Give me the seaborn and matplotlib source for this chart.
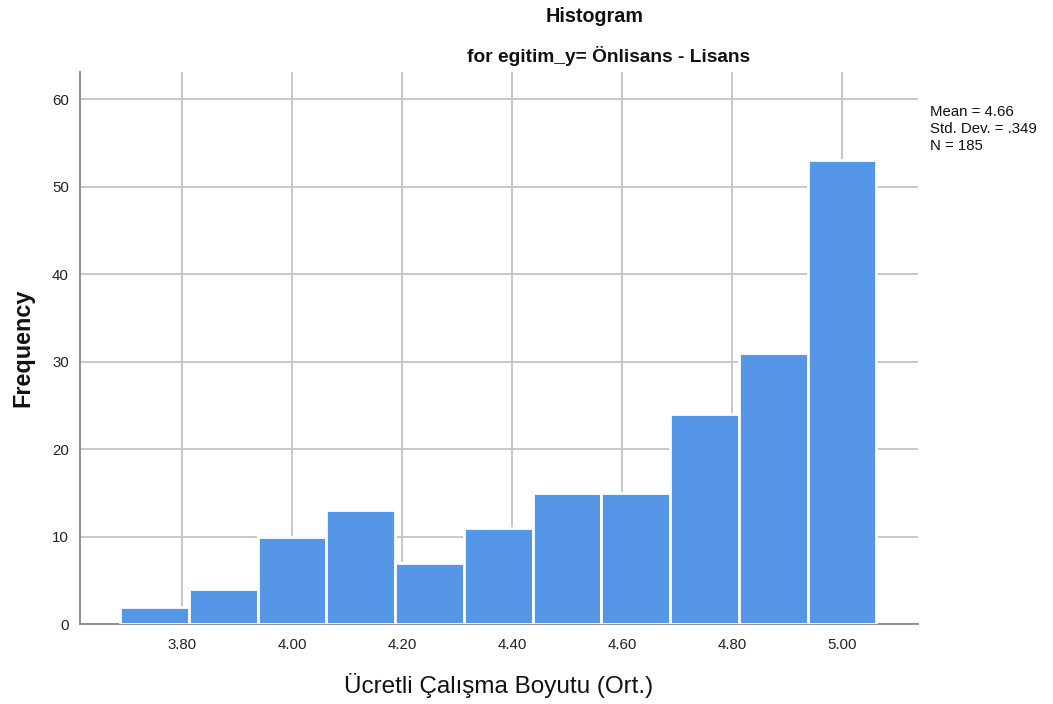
import numpy as np
import pandas as pd
import matplotlib
matplotlib.use("Agg")
import matplotlib.pyplot as plt
import seaborn as sns

# Data
bin_centers = [3.75, 3.875, 4.0, 4.125, 4.25, 4.375, 4.5, 4.625, 4.75, 4.875, 5.0]
counts = [2, 4, 10, 13, 7, 11, 15, 15, 24, 31, 53]
x_ticks = [3.80, 4.00, 4.20, 4.40, 4.60, 4.80, 5.00]
x_tick_labels = ["3.80", "4.00", "4.20", "4.40", "4.60", "4.80", "5.00"]
y_ticks = [0, 10, 20, 30, 40, 50, 60]
stats_text = "Mean = 4.66\nStd. Dev. = .349\nN = 185"

df = pd.DataFrame({"value": bin_centers, "count": counts})
bin_width = 0.125
bin_range = (bin_centers[0] - bin_width / 2, bin_centers[-1] + bin_width / 2)

sns.set_style("white")
plt.rcParams["font.family"] = ["Liberation Sans", "DejaVu Sans"]

fig = plt.figure(figsize=(10.53, 7.04), dpi=100)
ax = fig.add_axes([80 / 1053, 1 - 624 / 704, (918 - 80) / 1053, (624 - 72) / 704])

sns.histplot(data=df, x="value", weights="count", binwidth=bin_width, binrange=bin_range,
             ax=ax, color="#5596E6", alpha=1.0, edgecolor="white", linewidth=2, zorder=3)

ax.set_xlim(3.6145, 5.138)
ax.set_ylim(0, 63.1)
ax.set_xticks(x_ticks)
ax.set_xticklabels(x_tick_labels)
ax.set_yticks(y_ticks)
ax.grid(True, color="#c4c4c4", linewidth=1.3, zorder=0)
ax.set_axisbelow(True)
ax.tick_params(axis="both", length=0, labelsize=10.8, colors="#222222")
ax.tick_params(axis="x", pad=10)
ax.tick_params(axis="y", pad=8)
for s in ["top", "right"]:
    ax.spines[s].set_visible(False)
for s in ["left", "bottom"]:
    ax.spines[s].set_color("#888888")
    ax.spines[s].set_linewidth(1.3)

ax.set_xlabel("Ücretli Çalışma Boyutu (Ort.)", fontsize=17.5, color="#111111")
ax.xaxis.set_label_coords(0.5, (624 - 673) / 552)
ax.set_ylabel("Frequency", fontsize=16.8, fontweight="bold", color="#111111")
ax.yaxis.set_label_coords((34 - 80) / 838, 0.5)

fig.text(595 / 1053, 1 - 16 / 704, "Histogram", ha="center", va="center",
         fontsize=14.2, fontweight="bold", color="#111111")
fig.text(609 / 1053, 1 - 56 / 704, "for egitim_y= Önlisans - Lisans", ha="center", va="center",
         fontsize=13.8, fontweight="bold", color="#111111")
fig.text(930 / 1053, 1 - 105 / 704, stats_text, ha="left", va="top",
         fontsize=10.8, color="#111111", linespacing=1.25)

fig.savefig("out.png", dpi=100)
